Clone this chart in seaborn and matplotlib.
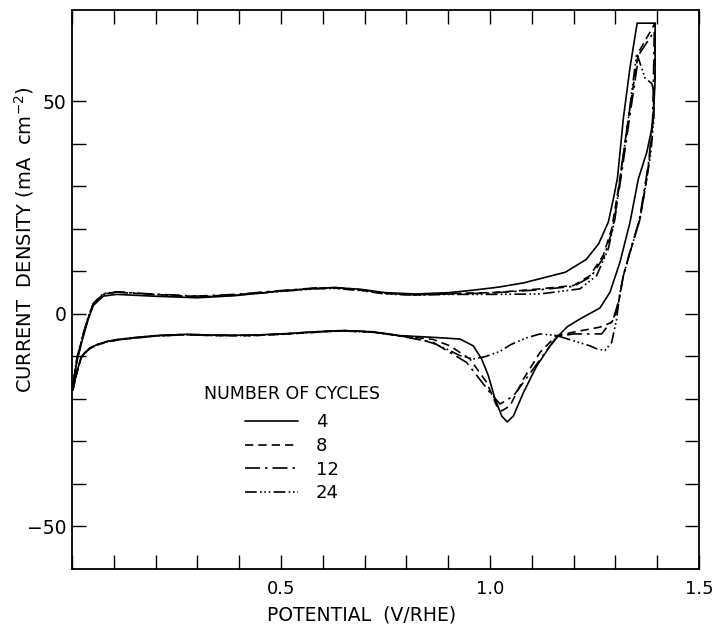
import numpy as np
import pandas as pd
import matplotlib
matplotlib.use("Agg")
import matplotlib.pyplot as plt
import seaborn as sns

# ---------------- data ----------------
cycles = ["4", "8", "12", "24"]
legend_title = "NUMBER OF CYCLES"
x_label = "POTENTIAL  (V/RHE)"
y_label = "CURRENT  DENSITY (mA  cm$^{-2}$)"
x_ticklabels = ["0.5", "1.0", "1.5"]
y_ticklabels = ["\u221250", "0", "50"]

# forward (anodic) scans, potential in V, current in mA cm-2
E_fwd_4 = [0.000, 0.012, 0.025, 0.039, 0.051, 0.075, 0.107, 0.19, 0.30, 0.39, 0.50, 0.58, 0.63, 0.69,
           0.75, 0.82, 0.90, 0.96, 1.02, 1.08, 1.12, 1.18, 1.23, 1.26, 1.283, 1.295, 1.305, 1.319, 1.335,
           1.352, 1.395]
I_fwd_4 = [-18.0, -11.0, -6.0, -1.2, 2.0, 4.2, 4.6, 4.2, 3.8, 4.3, 5.4, 6.0, 6.2, 5.8,
           5.0, 4.7, 5.0, 5.6, 6.3, 7.3, 8.3, 9.8, 12.8, 16.5, 21.6, 27.0, 32.0, 46.0, 58.0,
           68.4, 68.4]

E_fwd_8 = [0.000, 0.012, 0.025, 0.039, 0.051, 0.075, 0.107, 0.19, 0.30, 0.39, 0.50, 0.58, 0.63, 0.69,
           0.75, 0.82, 0.90, 1.00, 1.06, 1.12, 1.20, 1.239, 1.271, 1.291, 1.303, 1.311, 1.331, 1.355, 1.395]
I_fwd_8 = [-18.0, -10.5, -5.5, -0.8, 2.4, 4.7, 5.1, 4.6, 4.1, 4.5, 5.4, 6.0, 6.1, 5.6,
           4.8, 4.5, 4.8, 5.0, 5.4, 5.9, 6.7, 9.0, 13.8, 20.0, 27.0, 32.0, 46.0, 61.5, 68.4]

E_fwd_12 = [0.000, 0.012, 0.025, 0.039, 0.051, 0.075, 0.107, 0.19, 0.30, 0.39, 0.50, 0.58, 0.63, 0.69,
            0.75, 0.82, 0.90, 1.00, 1.06, 1.12, 1.20, 1.242, 1.273, 1.293, 1.305, 1.313, 1.333, 1.356, 1.393]
I_fwd_12 = [-18.0, -10.8, -5.6, -0.9, 2.3, 4.6, 5.2, 4.7, 4.2, 4.6, 5.5, 6.1, 6.2, 5.7,
            4.9, 4.5, 4.7, 4.9, 5.3, 5.7, 6.5, 8.8, 13.5, 19.8, 26.8, 31.8, 45.5, 61.0, 66.5]

E_fwd_24 = [0.000, 0.012, 0.025, 0.039, 0.051, 0.075, 0.107, 0.19, 0.30, 0.39, 0.50, 0.58, 0.63, 0.69,
            0.75, 0.82, 0.90, 1.00, 1.12, 1.215, 1.255, 1.283, 1.299, 1.311, 1.331, 1.351, 1.371, 1.387, 1.393]
I_fwd_24 = [-18.0, -10.2, -5.2, -0.6, 2.5, 4.8, 5.2, 4.6, 4.0, 4.4, 5.3, 5.9, 6.0, 5.5,
            4.7, 4.4, 4.6, 4.6, 4.7, 5.9, 9.0, 15.3, 22.4, 31.8, 46.0, 61.3, 55.5, 54.2, 52.0]

# reverse (cathodic) scans
E_rev_4 = [1.395, 1.395, 1.390, 1.375, 1.355, 1.335, 1.311, 1.287, 1.263, 1.215, 1.185, 1.167, 1.144,
           1.112, 1.080, 1.056, 1.041, 1.028, 1.012, 0.996, 0.980, 0.960, 0.928, 0.864, 0.785,
           0.72, 0.65, 0.60, 0.50, 0.43, 0.35, 0.27, 0.20, 0.147, 0.11, 0.083, 0.06, 0.043, 0.03,
           0.022, 0.015, 0.008, 0.002]
I_rev_4 = [68.4, 55.0, 45.0, 38.0, 31.8, 21.6, 12.2, 5.1, 1.4, -1.2, -3.0, -4.8, -7.5,
           -12.2, -18.5, -24.0, -25.4, -24.0, -20.0, -14.5, -10.6, -7.5, -5.9, -5.5, -5.1,
           -4.2, -3.9, -4.1, -4.7, -5.0, -5.0, -4.8, -5.1, -5.6, -6.0, -6.5, -7.2, -8.0, -9.2,
           -10.2, -12.5, -15.0, -18.0]

E_rev_8 = [1.395, 1.394, 1.390, 1.383, 1.375, 1.359, 1.335, 1.319, 1.311, 1.303, 1.291, 1.263, 1.199,
           1.160, 1.151, 1.120, 1.080, 1.048, 1.028, 1.016, 0.992, 0.952, 0.904, 0.864, 0.785,
           0.72, 0.65, 0.60, 0.50, 0.43, 0.35, 0.27, 0.20, 0.147, 0.11, 0.083, 0.06, 0.043, 0.03,
           0.022, 0.015, 0.008, 0.002]
I_rev_8 = [68.4, 55.0, 46.0, 38.0, 31.8, 22.4, 14.5, 9.0, 4.5, 0.4, -2.0, -3.1, -4.3,
           -5.1, -5.9, -9.0, -15.3, -21.6, -22.8, -21.6, -16.1, -10.6, -7.5, -6.0, -5.1,
           -4.3, -4.0, -4.2, -4.8, -5.1, -5.1, -4.9, -5.2, -5.7, -6.1, -6.6, -7.3, -8.1, -9.3,
           -10.3, -12.6, -15.2, -18.0]

E_rev_12 = [1.393, 1.391, 1.389, 1.380, 1.372, 1.357, 1.333, 1.318, 1.309, 1.295, 1.267, 1.200, 1.160,
            1.103, 1.056, 1.024, 1.000, 0.944, 0.864, 0.785,
            0.72, 0.65, 0.60, 0.50, 0.43, 0.35, 0.27, 0.20, 0.147, 0.11, 0.083, 0.06, 0.043, 0.03,
            0.022, 0.015, 0.008, 0.002]
I_rev_12 = [66.5, 55.0, 46.0, 36.0, 31.0, 22.0, 14.0, 8.5, 3.5, -1.2, -4.7, -4.7, -5.3,
            -13.0, -19.3, -21.2, -18.5, -11.4, -6.7, -5.2,
            -4.2, -3.9, -4.1, -4.7, -5.0, -5.0, -4.8, -5.1, -5.6, -6.0, -6.5, -7.2, -8.0, -9.2,
            -10.2, -12.5, -15.0, -18.0]

E_rev_24 = [1.393, 1.392, 1.385, 1.375, 1.359, 1.335, 1.319, 1.310, 1.303, 1.291, 1.275, 1.255, 1.239,
            1.199, 1.160, 1.120, 1.088, 1.050, 1.024, 0.990, 0.960, 0.928, 0.895, 0.864, 0.820, 0.785,
            0.72, 0.65, 0.60, 0.50, 0.43, 0.35, 0.27, 0.20, 0.147, 0.11, 0.083, 0.06, 0.043, 0.03,
            0.022, 0.015, 0.008, 0.002]
I_rev_24 = [52.0, 46.0, 38.0, 31.8, 22.4, 14.5, 9.0, 4.5, -1.2, -6.7, -8.6, -8.2, -7.5,
            -6.3, -5.1, -4.7, -5.6, -7.2, -8.8, -10.0, -10.6, -9.8, -8.2, -6.9, -5.6, -5.2,
            -4.3, -4.0, -4.2, -4.8, -5.1, -5.1, -4.9, -5.2, -5.7, -6.1, -6.6, -7.3, -8.1, -9.3,
            -10.3, -12.6, -15.2, -18.0]

# ---------------- build long-form table ----------------
series = {
    "4": (E_fwd_4, I_fwd_4, E_rev_4, I_rev_4),
    "8": (E_fwd_8, I_fwd_8, E_rev_8, I_rev_8),
    "12": (E_fwd_12, I_fwd_12, E_rev_12, I_rev_12),
    "24": (E_fwd_24, I_fwd_24, E_rev_24, I_rev_24),
}
frames = []
for c in cycles:
    ef, i_f, er, i_r = series[c]
    E = list(ef) + list(er)
    I = list(i_f) + list(i_r)
    frames.append(pd.DataFrame({"E": E, "I": I, "cycle": c, "order": range(len(E))}))
df = pd.concat(frames, ignore_index=True)

# ---------------- styling ----------------
sns.set_style("ticks")
plt.rcParams["font.family"] = ["DejaVu Sans"]
plt.rcParams["text.color"] = "black"
plt.rcParams["axes.labelcolor"] = "black"
plt.rcParams["xtick.color"] = "black"
plt.rcParams["ytick.color"] = "black"

line_styles = {
    "4": "-",
    "8": (0, (5, 3)),
    "12": (0, (9, 3, 1.5, 3)),
    "24": (0, (7, 2, 1.0, 1.6, 1.0, 1.6, 1.0, 2)),
}

fig = plt.figure(figsize=(7.15, 6.25), dpi=100)
ax = fig.add_axes([72 / 715, 1 - 569 / 625, (699 - 72) / 715, (569 - 10) / 625])

for c in cycles:
    sub = df[df["cycle"] == c]
    sns.lineplot(data=sub, x="E", y="I", sort=False, estimator=None, ax=ax,
                 color="black", linewidth=1.2, label=c)
    ax.lines[-1].set_linestyle(line_styles[c])

ax.set_xlim(0, 1.5)
ax.set_ylim(-60, 71.5)

xt = np.round(np.arange(0.0, 1.51, 0.1), 2)
ax.set_xticks(xt)
ax.set_xticklabels([f"{v:.1f}" if f"{v:.1f}" in x_ticklabels else "" for v in xt], fontsize=13)
yt = np.arange(-50, 51, 10)
ax.set_yticks(yt)
ylab_map = {-50: y_ticklabels[0], 0: y_ticklabels[1], 50: y_ticklabels[2]}
ax.set_yticklabels([ylab_map.get(int(v), "") for v in yt], fontsize=13.5)

ax.tick_params(direction="in", length=10, width=1.0, top=True, right=True,
               color="black", labelcolor="black")
ax.tick_params(axis="x", pad=8)
ax.tick_params(axis="y", pad=4)
for s in ax.spines.values():
    s.set_linewidth(1.3)
    s.set_color("black")

ax.set_xlabel(x_label, fontsize=13.5, color="black")
ax.set_ylabel(y_label, fontsize=14, color="black")
ax.xaxis.set_label_coords(0.4625, -0.066)
ax.yaxis.set_label_coords(-0.058, 0.589)

leg = ax.legend(title=legend_title, frameon=False, fontsize=13, title_fontsize=12.5,
                loc="upper left", bbox_to_anchor=(0.196, 0.345), borderpad=0,
                handlelength=2.9, handletextpad=1.0, labelspacing=0.32)
leg._legend_box.sep = leg._legend_box.sep + 3
leg.get_title().set_color("black")
for t in leg.get_texts():
    t.set_color("black")
for h, c in zip(leg.get_lines(), cycles):
    h.set_linestyle(line_styles[c])
    h.set_linewidth(1.2)

fig.savefig("out.png", dpi=100)
